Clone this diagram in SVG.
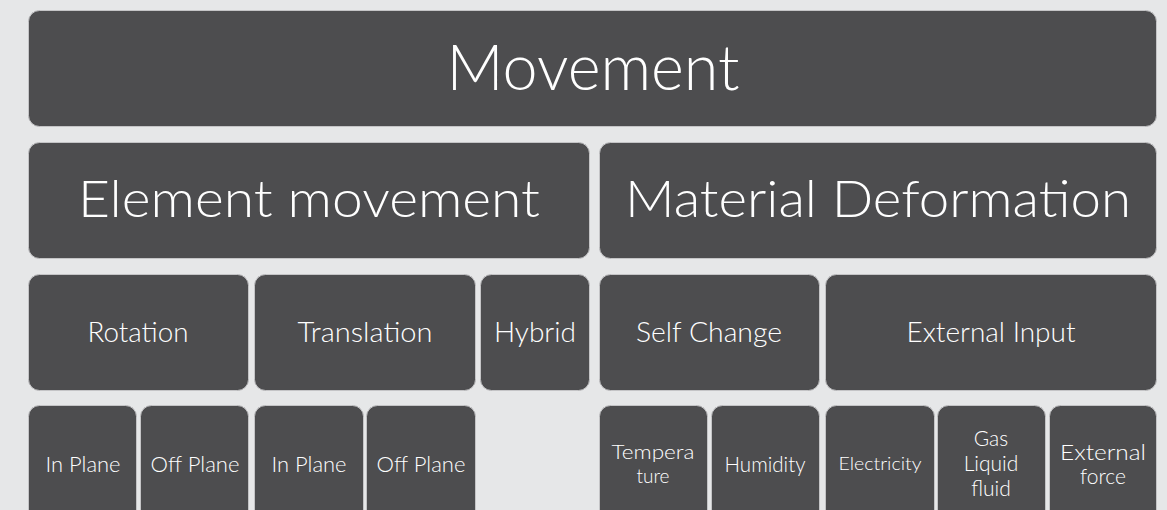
<svg xmlns="http://www.w3.org/2000/svg" width="1167" height="510" viewBox="0 0 1167 510">
  <defs>
    <style>
      .box { fill: #4d4d4f; stroke: #c4c4c6; stroke-width: 1; }
      .t { fill: #ffffff; font-family: Lato, "Open Sans", "Liberation Sans", sans-serif; font-weight: 300; text-anchor: middle; dominant-baseline: central; }
      .h1 { font-size: 63px; }
      .h2 { font-size: 52px; }
      .h3 { font-size: 27px; }
      .h4 { font-size: 21px; }
      .h4s { font-size: 19px; }
      .h5 { font-size: 18px; }
    </style>
  </defs>
  <rect width="1167" height="510" fill="#e6e7e8"/>

  <!-- level 1 -->
  <g id="movement">
    <rect class="box" x="28.5" y="10.5" width="1128" height="116" rx="11"/>
    <text class="t h1" x="593" y="65" textLength="293" lengthAdjust="spacingAndGlyphs">Movement</text>
  </g>

  <!-- level 2 -->
  <g id="element-movement">
    <rect class="box" x="28.5" y="142.5" width="561" height="116" rx="11"/>
    <text class="t h2" x="309" y="197" textLength="462" lengthAdjust="spacingAndGlyphs">Element movement</text>
  </g>
  <g id="material-deformation">
    <rect class="box" x="599.5" y="142.5" width="557" height="116" rx="11"/>
    <text class="t h2" x="878" y="197" textLength="506" lengthAdjust="spacingAndGlyphs">Material Deformation</text>
  </g>

  <!-- level 3 -->
  <g id="rotation">
    <rect class="box" x="28.5" y="274.5" width="220" height="116" rx="11"/>
    <text class="t h3" x="138" y="331" textLength="101" lengthAdjust="spacingAndGlyphs">Rotation</text>
  </g>
  <g id="translation">
    <rect class="box" x="254.5" y="274.5" width="221" height="116" rx="11"/>
    <text class="t h3" x="365" y="331" textLength="135" lengthAdjust="spacingAndGlyphs">Translation</text>
  </g>
  <g id="hybrid">
    <rect class="box" x="480.5" y="274.5" width="109" height="116" rx="11"/>
    <text class="t h3" x="535" y="331" textLength="82" lengthAdjust="spacingAndGlyphs">Hybrid</text>
  </g>
  <g id="self-change">
    <rect class="box" x="599.5" y="274.5" width="220" height="116" rx="11"/>
    <text class="t h3" x="709" y="331" textLength="146" lengthAdjust="spacingAndGlyphs">Self Change</text>
  </g>
  <g id="external-input">
    <rect class="box" x="825.5" y="274.5" width="331" height="116" rx="11"/>
    <text class="t h3" x="991" y="331" textLength="169" lengthAdjust="spacingAndGlyphs">External Input</text>
  </g>

  <!-- level 4 -->
  <g id="rotation-in-plane">
    <rect class="box" x="28.5" y="405.5" width="108" height="130" rx="11"/>
    <text class="t h4" x="83" y="463" textLength="75" lengthAdjust="spacingAndGlyphs">In Plane</text>
  </g>
  <g id="rotation-off-plane">
    <rect class="box" x="140.5" y="405.5" width="108" height="130" rx="11"/>
    <text class="t h4" x="195" y="463" textLength="89" lengthAdjust="spacingAndGlyphs">Off Plane</text>
  </g>
  <g id="translation-in-plane">
    <rect class="box" x="254.5" y="405.5" width="109" height="130" rx="11"/>
    <text class="t h4" x="309" y="463" textLength="75" lengthAdjust="spacingAndGlyphs">In Plane</text>
  </g>
  <g id="translation-off-plane">
    <rect class="box" x="366.5" y="405.5" width="109" height="130" rx="11"/>
    <text class="t h4" x="421" y="463" textLength="89" lengthAdjust="spacingAndGlyphs">Off Plane</text>
  </g>
  <g id="temperature">
    <rect class="box" x="599.5" y="405.5" width="108" height="130" rx="11"/>
    <text class="t h4s" x="653" y="451" textLength="83" lengthAdjust="spacingAndGlyphs">Tempera</text>
    <text class="t h4s" x="653" y="475">ture</text>
  </g>
  <g id="humidity">
    <rect class="box" x="711.5" y="405.5" width="108" height="130" rx="11"/>
    <text class="t h4" x="765" y="463" textLength="81" lengthAdjust="spacingAndGlyphs">Humidity</text>
  </g>
  <g id="electricity">
    <rect class="box" x="825.5" y="405.5" width="109" height="130" rx="11"/>
    <text class="t h5" x="880" y="463" textLength="83" lengthAdjust="spacingAndGlyphs">Electricity</text>
  </g>
  <g id="gas-liquid-fluid">
    <rect class="box" x="937.5" y="405.5" width="108" height="130" rx="11"/>
    <text class="t h4" x="991" y="437">Gas</text>
    <text class="t h4" x="991" y="462">Liquid</text>
    <text class="t h4" x="991" y="487">fluid</text>
  </g>
  <g id="external-force">
    <rect class="box" x="1049.5" y="405.5" width="107" height="130" rx="11"/>
    <text class="t h4" x="1103" y="451" textLength="86" lengthAdjust="spacingAndGlyphs">External</text>
    <text class="t h4" x="1103" y="475">force</text>
  </g>

  <!-- no connectors: nested block layout -->
  <g id="connectors"/>
</svg>
